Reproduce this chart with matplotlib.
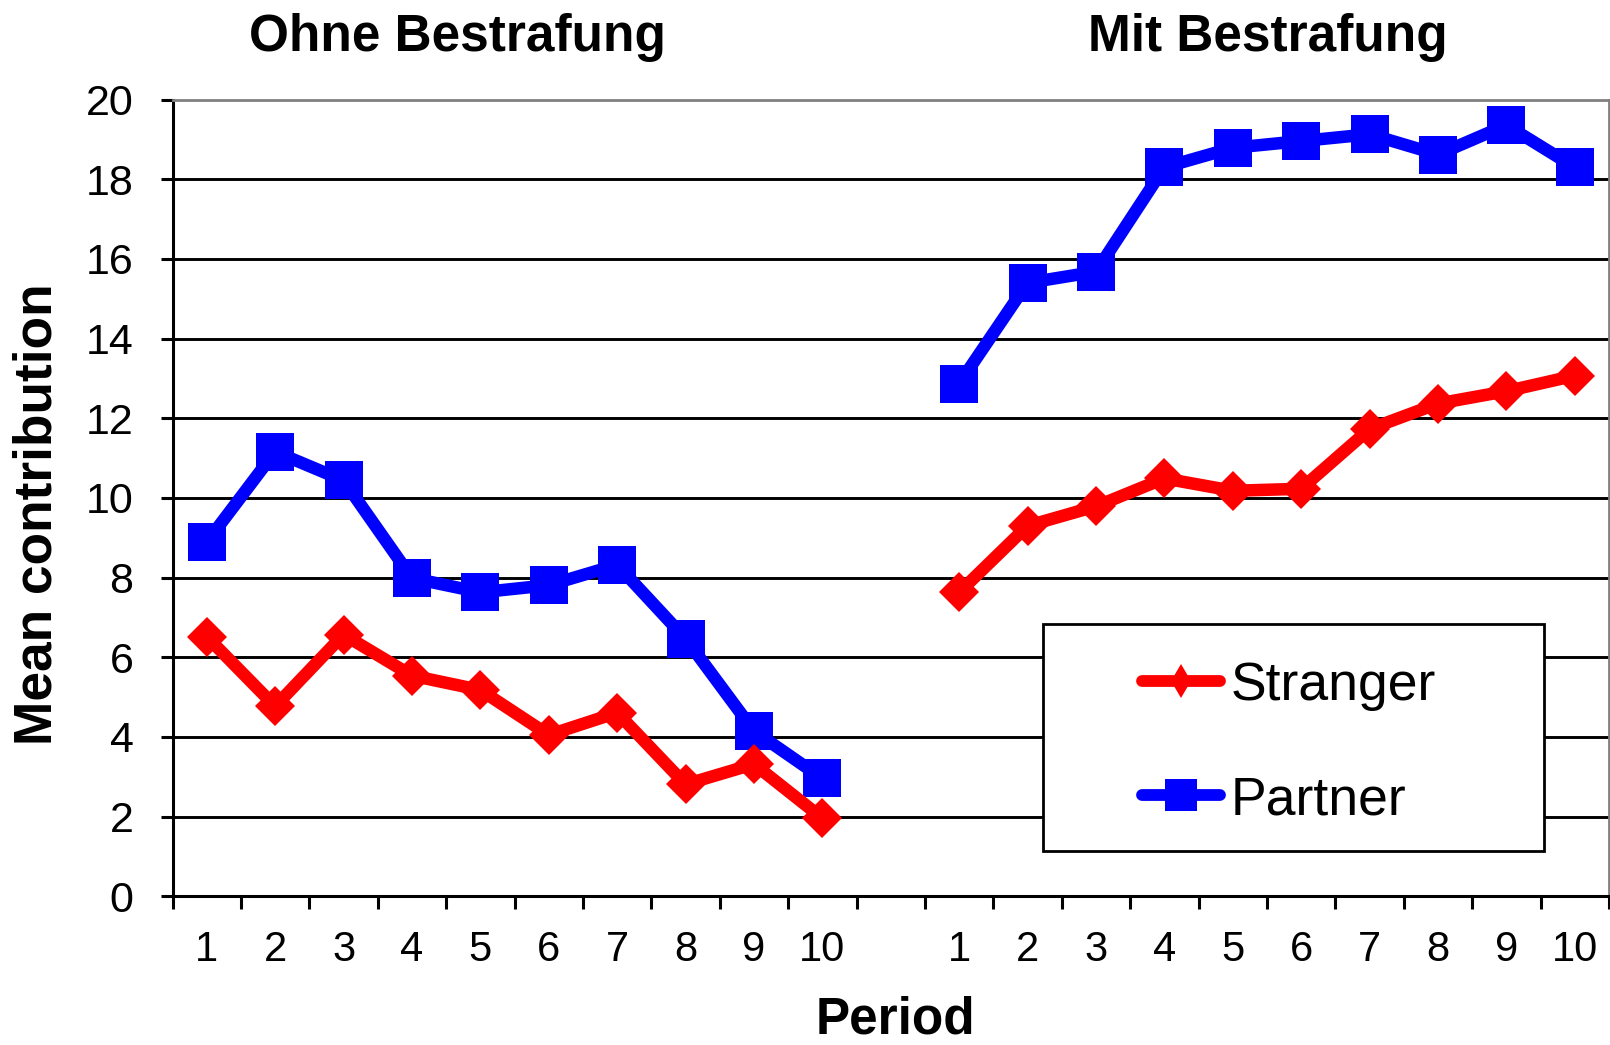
import matplotlib
matplotlib.use("Agg")
import matplotlib.pyplot as plt
from matplotlib.lines import Line2D
from matplotlib.patches import Rectangle
import numpy as np

plt.rcParams['font.family'] = ['Liberation Sans', 'DejaVu Sans']

# ---- data ----
periods = [str(i) for i in range(1, 11)]
groups = ["Ohne Bestrafung", "Mit Bestrafung"]
series_names = ["Stranger", "Partner"]

stranger_ohne = [6.52, 4.77, 6.57, 5.54, 5.18, 4.05, 4.61, 2.81, 3.32, 1.96]
partner_ohne = [8.89, 11.16, 10.44, 7.99, 7.63, 7.81, 8.32, 6.47, 4.15, 2.96]
stranger_mit = [7.63, 9.30, 9.79, 10.49, 10.18, 10.23, 11.73, 12.37, 12.68, 13.07]
partner_mit = [12.87, 15.40, 15.68, 18.30, 18.79, 18.96, 19.13, 18.62, 19.36, 18.30]

y_ticks = [0, 2, 4, 6, 8, 10, 12, 14, 16, 18, 20]

# ---- figure ----
W, H = 1610, 1045
fig = plt.figure(figsize=(W / 100, H / 100), dpi=100)
ax = fig.add_axes([172.5 / W, 1 - 896.3 / H, (1609 - 172.5) / W, (896.3 - 99.6) / H])

n = len(periods)
x_ohne = np.arange(n)
x_mit = np.arange(n) + n + 1
ncat = 2 * n + 1

red = "#FF0000"
blue = "#0000FF"
lw = 9

for xs, ys in [(x_ohne, partner_ohne), (x_mit, partner_mit)]:
    ax.plot(xs, ys, color=blue, lw=lw, marker='s', ms=28, mew=0, zorder=3,
            solid_joinstyle='miter')
for xs, ys in [(x_ohne, stranger_ohne), (x_mit, stranger_mit)]:
    ax.plot(xs, ys, color=red, lw=lw, marker='D', ms=20, mew=0, zorder=4,
            solid_joinstyle='miter')

ax.set_xlim(-0.5, ncat - 0.5)
ax.set_ylim(0, 20)

# y axis
ax.set_yticks(y_ticks)
ax.set_yticklabels([str(v) for v in y_ticks])
ax.tick_params(axis='y', direction='out', length=9, width=2.2, pad=19,
               labelsize=31, color='black')
for v in y_ticks[1:-1]:
    ax.axhline(v, color='black', lw=2.1, zorder=1)

# x axis: labels at category centres, tick marks at boundaries
centres = list(x_ohne) + list(x_mit)
ax.set_xticks(centres)
ax.set_xticklabels(periods + periods)
ax.set_xticks(np.arange(ncat + 1) - 0.5, minor=True)
ax.tick_params(axis='x', which='major', length=0, pad=24, labelsize=30)
ax.tick_params(axis='x', which='minor', direction='out', length=9, width=2.2)

for s in ['left', 'bottom']:
    ax.spines[s].set_color('black')
    ax.spines[s].set_linewidth(2.2)
for s in ['top', 'right']:
    ax.spines[s].set_color('#808080')
    ax.spines[s].set_linewidth(2.0)

# titles and labels
fig.text(457 / W, 1 - 51 / H, groups[0], ha='center', va='baseline',
         fontsize=37, fontweight='bold')
fig.text(1268 / W, 1 - 51 / H, groups[1], ha='center', va='baseline',
         fontsize=37, fontweight='bold')
fig.text(38 / W, 1 - 514 / H, "Mean contribution", rotation=90, ha='center',
         va='center', fontsize=38.3, fontweight='bold')
fig.text(895 / W, 1 - 1034 / H, "Period", ha='center', va='baseline',
         fontsize=37, fontweight='bold')

# legend
frame = Rectangle((1043 / W, 1 - 851 / H), (1544 - 1043) / W, (851 - 624) / H,
                  transform=fig.transFigure, facecolor='white',
                  edgecolor='black', lw=2, zorder=5)
fig.add_artist(frame)
handles = [
    Line2D([], [], color=red, lw=8.5, marker='d', ms=17, mew=0,
           solid_capstyle='round'),
    Line2D([], [], color=blue, lw=8.5, marker='s', ms=23, mew=0,
           solid_capstyle='round'),
]
leg = fig.legend(handles, series_names, loc='center left',
                 bbox_to_anchor=(1142 / W, 1 - 743 / H), frameon=False,
                 fontsize=38.5, handlelength=1.45, handletextpad=0.2,
                 labelspacing=1.2, borderpad=0, borderaxespad=0)
leg.set_zorder(6)

fig.savefig("out.png", dpi=100)
